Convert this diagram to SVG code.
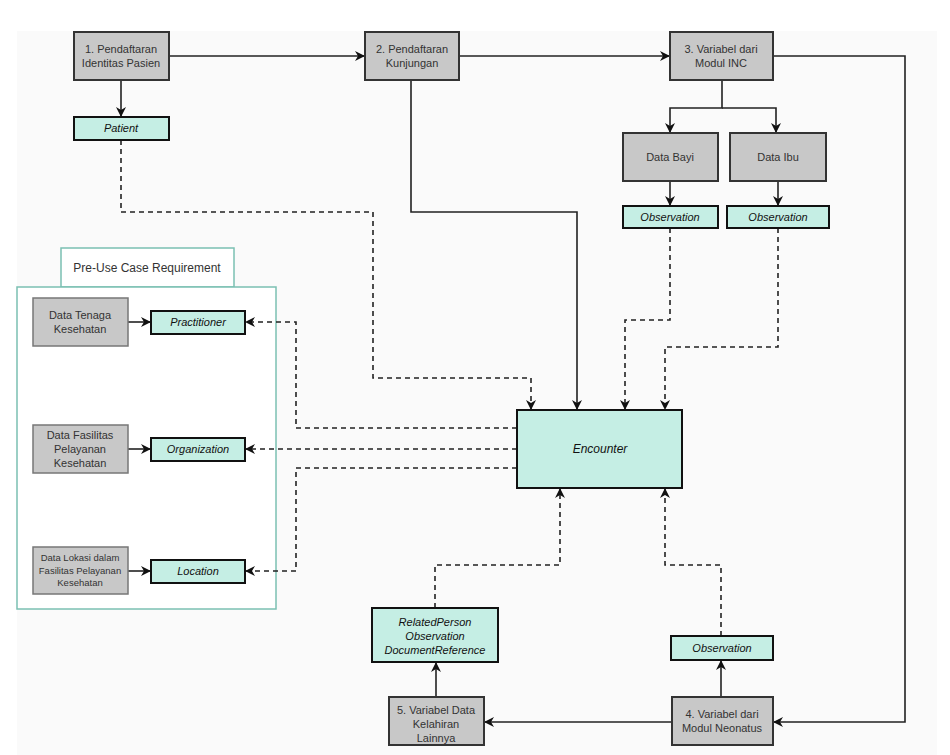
<svg xmlns="http://www.w3.org/2000/svg" width="950" height="755" viewBox="0 0 950 755">
<defs>
<marker id="ah" markerWidth="10" markerHeight="10" refX="9" refY="5" orient="auto" markerUnits="userSpaceOnUse"><path d="M0,0 L10,5 L0,10 L3,5 Z" fill="#111"/></marker>
<style>
.g rect{fill:#c8c8c8;stroke:#333;stroke-width:2}
.g2 rect{fill:#c8c8c8;stroke:#777;stroke-width:1.5}
.r rect{fill:#c5eee4;stroke:#111;stroke-width:2}
text{font-family:"Liberation Sans",Arial,sans-serif;font-size:11px;fill:#333;text-anchor:middle}
.r text{font-style:italic;fill:#111}
.c path{fill:none;stroke:#222;stroke-width:1.6;marker-end:url(#ah)}
.c .d{stroke-dasharray:5,4}
</style>
</defs>
<rect x="0" y="0" width="950" height="755" fill="#fff"/>
<rect x="17" y="31" width="920" height="724" fill="#fafafa"/>
<g id="pre">
<rect x="61" y="248" width="173" height="39" fill="#fff" stroke="#7bc0b2" stroke-width="1.5"/>
<text x="147" y="272" style="font-size:12px">Pre-Use Case Requirement</text>
<rect x="17" y="287" width="259" height="322" fill="#fff" stroke="#7bc0b2" stroke-width="1.5"/>
</g>
<g class="c">
<path d="M169,56 H364"/>
<path d="M121,80 V116"/>
<path d="M459,56 H669"/>
<path d="M773,56 H905 V722 H774"/>
<path d="M722,80 V108 H670 V132"/>
<path d="M722,108 H776 V132"/>
<path d="M670,181 V205"/>
<path d="M778,181 V205"/>
<path class="d" d="M121,140 V212 H373 V378 H531 V409"/>
<path d="M411,80 V212 H577 V409"/>
<path class="d" d="M670,228 V320 H625 V409"/>
<path class="d" d="M778,228 V347 H665 V409"/>
<path class="d" d="M517,428 H296 V322 H246"/>
<path class="d" d="M517,449 H246"/>
<path class="d" d="M517,468 H296 V571 H246"/>
<path class="d" d="M435,608 V565 H560 V489"/>
<path class="d" d="M721,636 V565 H665 V489"/>
<path d="M721,697 V661"/>
<path d="M672,722 H485"/>
<path d="M436,697 V663"/>
<path d="M128,322 H150"/>
<path d="M128,449 H150"/>
<path d="M128,571 H150"/>
</g>
<g id="n1" class="g"><rect x="74" y="32" width="95" height="48"/><text x="121" y="53">1. Pendaftaran</text><text x="121" y="67">Identitas Pasien</text></g>
<g id="n2" class="g"><rect x="365" y="32" width="94" height="48"/><text x="412" y="53">2. Pendaftaran</text><text x="412" y="67">Kunjungan</text></g>
<g id="n3" class="g"><rect x="670" y="32" width="103" height="48"/><text x="721" y="53">3. Variabel dari</text><text x="721" y="67">Modul INC</text></g>
<g id="patient" class="r"><rect x="74" y="117" width="95" height="23"/><text x="121" y="132">Patient</text></g>
<g id="bayi" class="g"><rect x="623" y="133" width="95" height="48"/><text x="670" y="161">Data Bayi</text></g>
<g id="ibu" class="g"><rect x="730" y="133" width="96" height="48"/><text x="778" y="161">Data Ibu</text></g>
<g id="obs1" class="r"><rect x="623" y="206" width="95" height="22"/><text x="670" y="221">Observation</text></g>
<g id="obs2" class="r"><rect x="727" y="206" width="102" height="22"/><text x="778" y="221">Observation</text></g>
<g id="enc" class="r"><rect x="517" y="410" width="165" height="78"/><text x="600" y="453" style="font-size:12px">Encounter</text></g>
<g id="tenaga" class="g2"><rect x="33" y="298" width="95" height="48"/><text x="80" y="319">Data Tenaga</text><text x="80" y="333">Kesehatan</text></g>
<g id="prac" class="r"><rect x="151" y="311" width="94" height="23"/><text x="198" y="326">Practitioner</text></g>
<g id="fas" class="g2"><rect x="33" y="425" width="95" height="48"/><text x="80" y="439">Data Fasilitas</text><text x="80" y="453">Pelayanan</text><text x="80" y="467">Kesehatan</text></g>
<g id="org" class="r"><rect x="151" y="438" width="94" height="23"/><text x="198" y="453">Organization</text></g>
<g id="lok" class="g2"><rect x="33" y="547" width="95" height="47"/><text x="80" y="561" style="font-size:9.5px">Data Lokasi dalam</text><text x="80" y="574" style="font-size:9.5px">Fasilitas Pelayanan</text><text x="80" y="586" style="font-size:9.5px">Kesehatan</text></g>
<g id="loc" class="r"><rect x="151" y="560" width="94" height="23"/><text x="198" y="575">Location</text></g>
<g id="rel" class="r"><rect x="372" y="608" width="126" height="54"/><text x="435" y="626">RelatedPerson</text><text x="435" y="640">Observation</text><text x="435" y="654">DocumentReference</text></g>
<g id="obs3" class="r"><rect x="671" y="636" width="102" height="24"/><text x="722" y="652">Observation</text></g>
<g id="n5" class="g"><rect x="389" y="697" width="95" height="48"/><text x="436" y="714">5. Variabel Data</text><text x="436" y="728">Kelahiran</text><text x="436" y="742">Lainnya</text></g>
<g id="n4" class="g"><rect x="672" y="697" width="101" height="48"/><text x="722" y="718">4. Variabel dari</text><text x="722" y="732">Modul Neonatus</text></g>
</svg>
